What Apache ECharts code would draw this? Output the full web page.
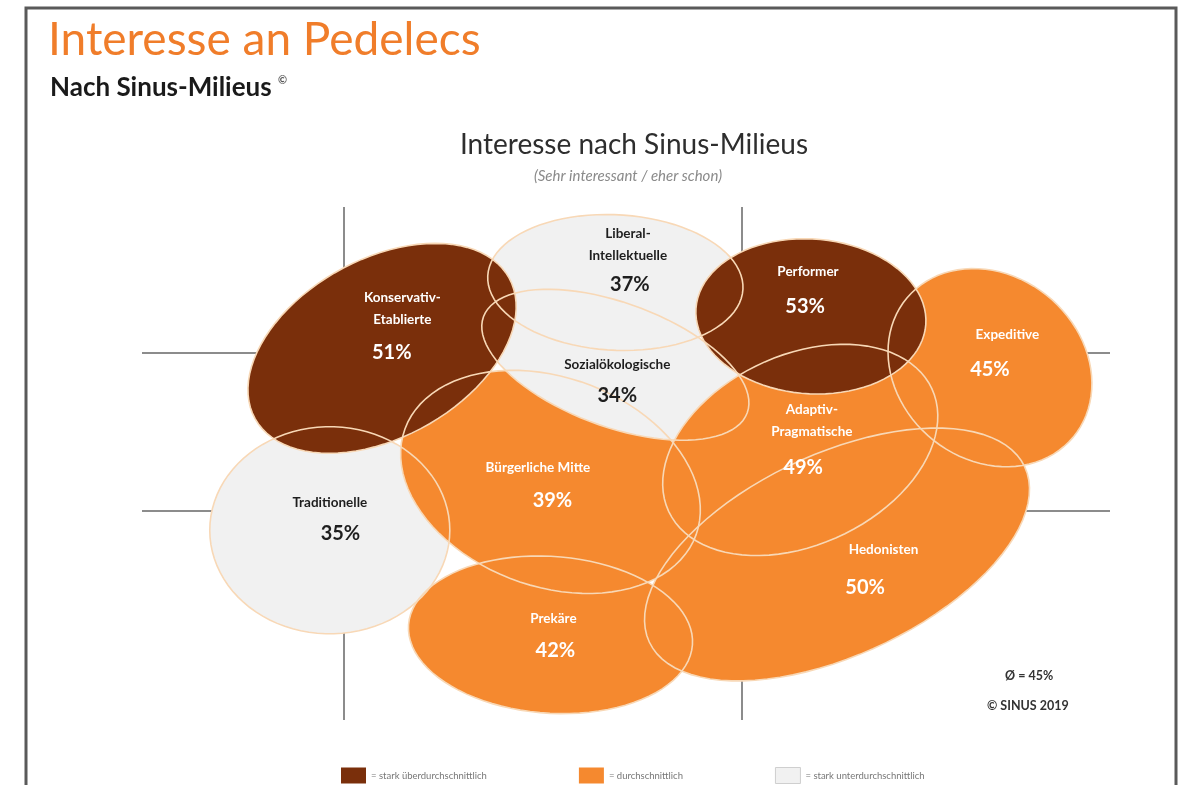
<!DOCTYPE html>
<html>
<head>
<meta charset="utf-8">
<script src="https://cdn.jsdelivr.net/npm/echarts@6/dist/echarts.min.js"></script>
<style>
  html, body { margin: 0; padding: 0; background: #fff; }
  #chart { width: 1186px; height: 785px; }
</style>
</head>
<body>
<div id="chart"></div>
<script>
// Milieus, in drawing order (back to front)
var milieus = ['Traditionelle', 'Bürgerliche Mitte', 'Prekäre', 'Liberal-Intellektuelle', 'Sozialökologische',
               'Konservativ-Etablierte', 'Adaptiv-Pragmatische', 'Hedonisten', 'Expeditive', 'Performer'];
var milieuLabels = ['Traditionelle', 'Bürgerliche Mitte', 'Prekäre', 'Liberal-\nIntellektuelle', 'Sozialökologische',
                    'Konservativ-\nEtablierte', 'Adaptiv-\nPragmatische', 'Hedonisten', 'Expeditive', 'Performer'];
var interest = [35, 39, 42, 37, 34, 51, 49, 50, 45, 53];   // % sehr interessant / eher schon
var level = ['low', 'avg', 'avg', 'low', 'low', 'high', 'avg', 'avg', 'avg', 'high'];

// position of each milieu in the map (Grundorientierung x, soziale Lage y) and its spread
var orientX = [19.4, 42.2, 42.2, 48.9, 48.9, 24.8, 68.0, 71.8, 87.6, 69.1];
var statusY = [19.6, 24.6, 8.8, 45.2, 36.7, 38.4, 27.9, 17.1, 36.4, 41.7];
var spreadX = [12.4, 16.0, 14.7, 13.2, 14.5, 15.0, 15.0, 21.4, 11.2, 11.9];
var spreadY = [10.7, 10.8, 8.1, 7.0, 6.4, 9.2, 9.8, 10.4, 9.5, 8.0];
var tilt = [0, -20, -4, -3, -20, 29, 25, 25, -40, -4];

// where the names and values are written
var nameX = [19.4, 40.9, 42.5, 50.2, 49.1, 26.9, 69.2, 76.6, 89.4, 68.8];
var nameY = [22.5, 26.1, 10.5, 49.1, 36.7, 42.5, 30.9, 17.6, 39.8, 46.3];
var pctX = [20.5, 42.4, 42.7, 50.4, 49.1, 25.8, 68.3, 74.7, 87.6, 68.5];
var pctY = [19.3, 22.7, 7.2, 45.0, 33.5, 38.0, 26.1, 13.7, 36.2, 42.7];

// quadrant lines of the Sinus map
var splitX = [20.8, 62.0];
var splitY = [37.9, 21.6];

var levelNames = {
  high: '= stark überdurchschnittlich',
  avg: '= durchschnittlich',
  low: '= stark unterdurchschnittlich'
};
var levelColors = { high: '#7a2f0b', avg: '#f5892f', low: '#f1f1f1' };
var textColors = { high: '#ffffff', avg: '#ffffff', low: '#1e1e1e' };
var outlineColor = '#f8d8b6';

var blobData = milieus.map(function (m, i) {
  return [orientX[i], statusY[i], spreadX[i], spreadY[i], tilt[i]];
});

function blobPoints(api) {
  var c = api.coord([api.value(0), api.value(1)]);
  var s = api.size([api.value(2), api.value(3)]);
  var phi = -api.value(4) * Math.PI / 180;
  var pts = [];
  for (var k = 0; k < 90; k++) {
    var t = k / 90 * Math.PI * 2;
    var lx = s[0] * Math.cos(t), ly = s[1] * Math.sin(t);
    pts.push([c[0] + lx * Math.cos(phi) - ly * Math.sin(phi),
              c[1] + lx * Math.sin(phi) + ly * Math.cos(phi)]);
  }
  return pts;
}

var gridLines = [];
splitX.forEach(function (x) { gridLines.push({ coords: [[x, 0], [x, 53]] }); });
splitY.forEach(function (y) { gridLines.push({ coords: [[0, y], [100, y]] }); });

var chart = echarts.init(document.getElementById('chart'));
chart.setOption({
  backgroundColor: '#fff',
  animation: false,
  textStyle: { fontFamily: 'Lato' },
  grid: { left: 142, top: 207, width: 968, height: 513 },
  xAxis: { type: 'value', min: 0, max: 100, show: false },
  yAxis: { type: 'value', min: 0, max: 53, show: false },
  title: [
    { text: 'Interesse an Pedelecs', left: 43, top: 12,
      textStyle: { fontFamily: 'Lato', fontSize: 46, fontWeight: 'normal', color: '#f07d2a' } },
    { text: 'Nach Sinus-Milieus {sup|©}', left: 45, top: 70,
      textStyle: { fontFamily: 'Lato', fontSize: 26, fontWeight: 'bold', color: '#1a1a1a',
        rich: { sup: { fontSize: 11, color: '#555', verticalAlign: 'top', padding: [0, 0, 12, 0] } } } },
    { text: 'Interesse nach Sinus-Milieus', left: 629, top: 126, textAlign: 'center',
      textStyle: { fontFamily: 'Lato', fontSize: 28, fontWeight: 'normal', color: '#2e2e2e' } },
    { text: '(Sehr interessant / eher schon)', left: 623, top: 164, textAlign: 'center',
      textStyle: { fontFamily: 'Lato', fontSize: 15, fontStyle: 'italic', fontWeight: 'normal', color: '#8a8a8a' } }
  ],
  legend: {
    left: 336, top: 762, itemWidth: 25, itemHeight: 16, itemGap: 92, icon: 'rect',
    selectedMode: false,
    textStyle: { fontFamily: 'Lato', fontSize: 9.5, color: '#777' },
    data: [
      { name: levelNames.high, itemStyle: { color: levelColors.high, opacity: 1 } },
      { name: levelNames.avg, itemStyle: { color: levelColors.avg, opacity: 1 } },
      { name: levelNames.low, itemStyle: { color: levelColors.low, opacity: 1, borderColor: '#cfcfcf', borderWidth: 1 } }
    ]
  },
  graphic: [
    { type: 'rect', z: 100, silent: true,
      shape: { x: 26, y: 8, width: 1150, height: 820 },
      style: { fill: 'none', stroke: '#5a5a5a', lineWidth: 3 } },
    { type: 'text', left: 1005, top: 669, z: 100,
      style: { text: 'Ø = 45%', fontFamily: 'Lato', fontSize: 12.5, fontWeight: 'bold', fill: '#333' } },
    { type: 'text', left: 987, top: 699, z: 100,
      style: { text: '© SINUS 2019', fontFamily: 'Lato', fontSize: 12.5, fontWeight: 'bold', fill: '#333' } }
  ],
  series: [
    {
      type: 'lines', coordinateSystem: 'cartesian2d', z: 1, silent: true,
      lineStyle: { color: '#8c8c8c', width: 2, opacity: 1 },
      data: gridLines
    },
    {
      type: 'custom', name: 'fill', z: 2, silent: true,
      data: blobData,
      renderItem: function (params, api) {
        var i = params.dataIndex;
        return { type: 'polygon', shape: { points: blobPoints(api) },
                 style: { fill: levelColors[level[i]] } };
      }
    },
    {
      type: 'custom', name: 'outline', z: 3, silent: true,
      data: blobData,
      renderItem: function (params, api) {
        var i = params.dataIndex;
        var col = textColors[level[i]];
        var n = api.coord([nameX[i], nameY[i]]);
        var p = api.coord([pctX[i], pctY[i]]);
        return {
          type: 'group',
          children: [
            { type: 'polygon', shape: { points: blobPoints(api) },
              style: { fill: 'none', stroke: outlineColor, lineWidth: 1.6 } },
            { type: 'text', x: n[0], y: n[1], z2: 10,
              style: { text: milieuLabels[i], fill: col, fontFamily: 'Lato', fontSize: 13.5,
                       fontWeight: 'bold', align: 'center', verticalAlign: 'middle', lineHeight: 22 } },
            { type: 'text', x: p[0], y: p[1], z2: 10,
              style: { text: interest[i] + '%', fill: col, fontFamily: 'Lato', fontSize: 20,
                       fontWeight: 'bold', align: 'center', verticalAlign: 'middle' } }
          ]
        };
      }
    },
    { type: 'scatter', name: levelNames.high, data: [], itemStyle: { color: levelColors.high } },
    { type: 'scatter', name: levelNames.avg, data: [], itemStyle: { color: levelColors.avg } },
    { type: 'scatter', name: levelNames.low, data: [], itemStyle: { color: levelColors.low } }
  ]
});
</script>
</body>
</html>
